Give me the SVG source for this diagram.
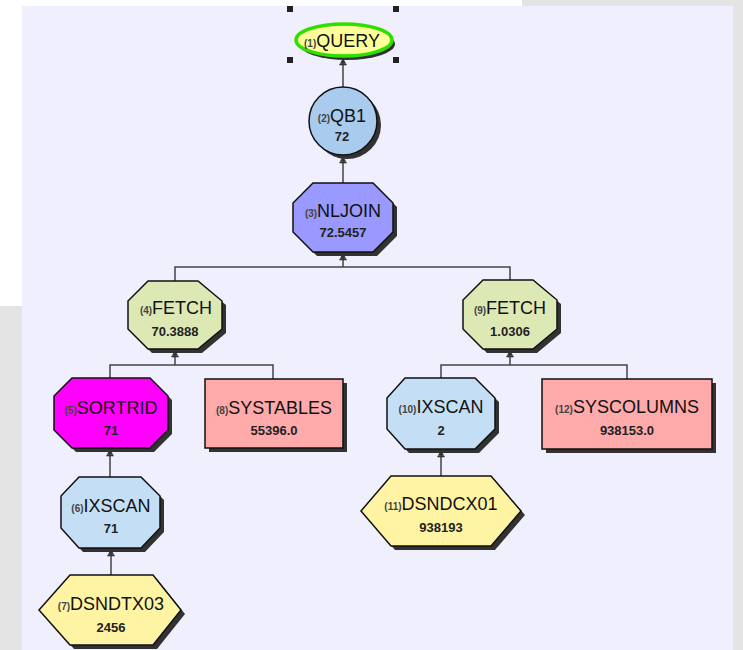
<svg xmlns="http://www.w3.org/2000/svg" width="743" height="650" viewBox="0 0 743 650">
  <style>
    .node { stroke: #111; stroke-width: 1.5; }
    .shadow { fill: #333; stroke: none; filter: url(#soft); }
    .lbl { font-family: "Liberation Sans", Arial, sans-serif; font-size: 18px; fill: #111; text-anchor: middle; }
    .pre { font-size: 10px; font-weight: bold; fill: #444; }
    .val { font-family: "Liberation Sans", Arial, sans-serif; font-size: 13px; font-weight: bold; fill: #222; text-anchor: middle; }
    .wire { fill: none; stroke: #444; stroke-width: 1.5; }
    .handle { fill: #222; }
  </style>
  <defs>
    <filter id="soft" x="-10%" y="-10%" width="120%" height="120%">
      <feGaussianBlur stdDeviation="0.7"/>
    </filter>
    <!-- small upward arrow tip with a cross bar, fixed orientation -->
    <marker id="up" viewBox="0 0 10 10" refX="5" refY="0.5" markerWidth="9" markerHeight="9" markerUnits="userSpaceOnUse" orient="0">
      <path d="M1.5,7 L5,0.5 L8.5,7 Z" fill="#333"/>
      <rect x="1" y="7" width="8" height="1.6" fill="#333"/>
    </marker>
  </defs>

  <!-- backdrop -->
  <rect x="0" y="0" width="743" height="650" fill="#ffffff"/>
  <rect x="522" y="0" width="221" height="6" fill="#e4e4e4"/>
  <rect x="733" y="0" width="10" height="650" fill="#e4e4e4"/>
  <rect x="0" y="306" width="22" height="344" fill="#e4e4e4"/>
  <rect x="22" y="6" width="711" height="644" fill="#f0effd"/>

  <!-- connectors -->
  <g id="connectors">
    <path class="wire" d="M343,88 V58" marker-end="url(#up)"/>
    <path class="wire" d="M343,183 V156" marker-end="url(#up)"/>
    <path class="wire" d="M175,281 V267 H510 V280"/>
    <path class="wire" d="M343,267 V253" marker-end="url(#up)"/>
    <path class="wire" d="M110,378 V365 H273 V379"/>
    <path class="wire" d="M175,365 V350" marker-end="url(#up)"/>
    <path class="wire" d="M441,378 V365 H627 V379"/>
    <path class="wire" d="M510,365 V350" marker-end="url(#up)"/>
    <path class="wire" d="M110,477 V449" marker-end="url(#up)"/>
    <path class="wire" d="M111,575 V549" marker-end="url(#up)"/>
    <path class="wire" d="M441,476 V450" marker-end="url(#up)"/>
  </g>

  <!-- (1) QUERY, selected -->
  <g id="n1-query">
    <ellipse class="shadow" cx="347" cy="44" rx="48" ry="16"/>
    <ellipse cx="344" cy="40" rx="48" ry="16" fill="#ffff99" stroke="#2ee000" stroke-width="3.5"/>
    <text class="lbl" x="342" y="47"><tspan class="pre">(1)</tspan>QUERY</text>
    <rect class="handle" x="287" y="6" width="6" height="6"/>
    <rect class="handle" x="393" y="6" width="6" height="6"/>
    <rect class="handle" x="287" y="57" width="6" height="6"/>
    <rect class="handle" x="393" y="57" width="6" height="6"/>
  </g>

  <!-- (2) QB1 -->
  <g id="n2-qb1">
    <circle class="shadow" cx="347" cy="125" r="34"/>
    <circle class="node" cx="343" cy="121" r="34" fill="#a8cbee"/>
    <text class="lbl" x="342" y="122"><tspan class="pre">(2)</tspan>QB1</text>
    <text class="val" x="342" y="141">72</text>
  </g>

  <!-- (3) NLJOIN -->
  <g id="n3-nljoin">
    <polygon class="shadow" points="317,187 377,187 397,207 397,236 377,256 317,256 297,236 297,207"/>
    <polygon class="node" points="313,183 373,183 393,203 393,232 373,252 313,252 293,232 293,203" fill="#9999ff"/>
    <text class="lbl" x="343" y="217"><tspan class="pre">(3)</tspan>NLJOIN</text>
    <text class="val" x="343" y="237">72.5457</text>
  </g>

  <!-- (4) FETCH -->
  <g id="n4-fetch">
    <polygon class="shadow" points="152,285 202,285 226,305 226,333 202,353 152,353 132,333 132,305"/>
    <polygon class="node" points="148,281 198,281 222,301 222,329 198,349 148,349 128,329 128,301" fill="#dde9b5"/>
    <text class="lbl" x="176" y="314"><tspan class="pre">(4)</tspan>FETCH</text>
    <text class="val" x="175" y="336">70.3888</text>
  </g>

  <!-- (9) FETCH -->
  <g id="n9-fetch">
    <polygon class="shadow" points="487,284 537,284 561,304 561,333 537,353 487,353 467,333 467,304"/>
    <polygon class="node" points="483,280 533,280 557,300 557,329 533,349 483,349 463,329 463,300" fill="#dde9b5"/>
    <text class="lbl" x="510" y="314"><tspan class="pre">(9)</tspan>FETCH</text>
    <text class="val" x="510" y="336">1.0306</text>
  </g>

  <!-- (5) SORTRID -->
  <g id="n5-sortrid">
    <polygon class="shadow" points="76,382 154,382 172,400 172,434 154,452 76,452 58,434 58,400"/>
    <polygon class="node" points="72,378 150,378 168,396 168,430 150,448 72,448 54,430 54,396" fill="#ff00ff"/>
    <text class="lbl" x="111" y="414"><tspan class="pre">(5)</tspan>SORTRID</text>
    <text class="val" x="111" y="435">71</text>
  </g>

  <!-- (8) SYSTABLES -->
  <g id="n8-systables">
    <rect class="shadow" x="209" y="383" width="138" height="69"/>
    <rect class="node" x="205" y="379" width="138" height="69" fill="#ffaaaa"/>
    <text class="lbl" x="274" y="414"><tspan class="pre">(8)</tspan>SYSTABLES</text>
    <text class="val" x="274" y="435">55396.0</text>
  </g>

  <!-- (10) IXSCAN -->
  <g id="n10-ixscan">
    <polygon class="shadow" points="409,382 479,382 499,402 499,433 479,453 409,453 391,433 391,402"/>
    <polygon class="node" points="405,378 475,378 495,398 495,429 475,449 405,449 387,429 387,398" fill="#c4dff5"/>
    <text class="lbl" x="441" y="413"><tspan class="pre">(10)</tspan>IXSCAN</text>
    <text class="val" x="441" y="435">2</text>
  </g>

  <!-- (12) SYSCOLUMNS -->
  <g id="n12-syscolumns">
    <rect class="shadow" x="546" y="383" width="170" height="70"/>
    <rect class="node" x="542" y="379" width="170" height="70" fill="#ffaaaa"/>
    <text class="lbl" x="627" y="413"><tspan class="pre">(12)</tspan>SYSCOLUMNS</text>
    <text class="val" x="627" y="435">938153.0</text>
  </g>

  <!-- (6) IXSCAN -->
  <g id="n6-ixscan">
    <polygon class="shadow" points="83,481 145,481 164,500 164,532 145,552 83,552 65,532 65,500"/>
    <polygon class="node" points="79,477 141,477 160,496 160,528 141,548 79,548 61,528 61,496" fill="#c4dff5"/>
    <text class="lbl" x="111" y="512"><tspan class="pre">(6)</tspan>IXSCAN</text>
    <text class="val" x="111" y="533">71</text>
  </g>

  <!-- (7) DSNDTX03 -->
  <g id="n7-dsndtx03">
    <polygon class="shadow" points="74,579 157,579 185,614 157,649 74,649 43,614"/>
    <polygon class="node" points="70,575 153,575 181,610 153,645 70,645 39,610" fill="#fff4a3"/>
    <text class="lbl" x="111" y="610"><tspan class="pre">(7)</tspan>DSNDTX03</text>
    <text class="val" x="111" y="632">2456</text>
  </g>

  <!-- (11) DSNDCX01 -->
  <g id="n11-dsndcx01">
    <polygon class="shadow" points="395,480 495,480 525,515 495,550 395,550 365,515"/>
    <polygon class="node" points="391,476 491,476 521,511 491,546 391,546 361,511" fill="#fff4a3"/>
    <text class="lbl" x="441" y="510"><tspan class="pre">(11)</tspan>DSNDCX01</text>
    <text class="val" x="441" y="532">938193</text>
  </g>
</svg>
